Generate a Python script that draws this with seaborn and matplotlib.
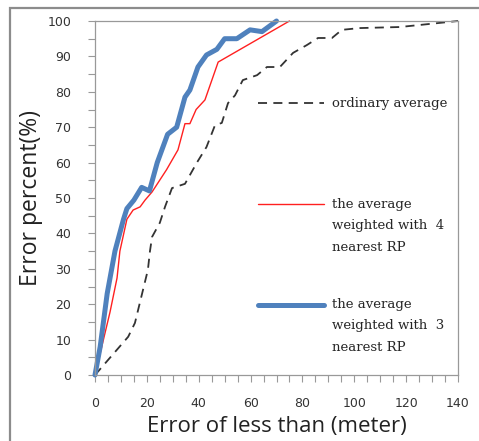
import numpy as np
import pandas as pd
import matplotlib
matplotlib.use("Agg")
import matplotlib.pyplot as plt
from matplotlib.patches import Rectangle
from matplotlib.lines import Line2D
from matplotlib.ticker import MultipleLocator
import seaborn as sns

# data
ord_x = [0, 12.8, 15.4, 18.5, 20.4, 21.2, 22, 25, 27, 29.7, 34.7, 39.3, 43, 46.3, 48.9,
         51.3, 54, 57, 62.5, 66.3, 71.3, 76.4, 81.7, 86, 91.4, 95.2, 102, 117.6, 140]
ord_y = [0, 10.8, 14.7, 24, 29.7, 35, 39, 43, 47.5, 52.8, 54, 60, 64.4, 70.6, 71.2,
         76.8, 79, 83.3, 84.7, 87, 87, 91, 93.2, 95.2, 95.2, 97.5, 98, 98.3, 100]

w4_x = [0, 5.8, 8.5, 9.6, 12.3, 14.7, 17.4, 19.3, 22, 27.6, 32, 34.7, 36.6, 39, 42.4, 47.5, 75]
w4_y = [0, 17.8, 27.4, 35, 44, 46.6, 47.5, 49.4, 51.7, 58, 63.6, 71, 71, 75, 77.7, 88.4, 100]

w3_x = [0, 2, 4.7, 7.7, 11, 12.3, 15, 18, 21, 24, 28, 31.5, 34.7, 36.6, 39.7, 43, 47, 50,
        54.7, 59.8, 64.4, 70]
w3_y = [0, 8, 23, 35, 44, 47, 49.4, 53, 52, 60, 68, 70, 78.5, 80.5, 87, 90.4, 92, 95,
        95, 97.5, 97, 100]

labels = ["ordinary average",
          "the average\nweighted with  4\nnearest RP",
          "the average\nweighted with  3\nnearest RP"]

sns.set_style("white")
plt.rcParams['font.family'] = ['DejaVu Sans']

fig = plt.figure(figsize=(4.79, 4.41), dpi=100)
ax = fig.add_axes([95 / 479, 1 - 375 / 441, 363 / 479, 354 / 441])

df_o = pd.DataFrame({"x": ord_x, "y": ord_y})
df_4 = pd.DataFrame({"x": w4_x, "y": w4_y})
df_3 = pd.DataFrame({"x": w3_x, "y": w3_y})

sns.lineplot(data=df_o, x="x", y="y", ax=ax, color="#333333", lw=1.3,
             sort=False, estimator=None)
ax.lines[-1].set_dashes([5, 3.5])
sns.lineplot(data=df_4, x="x", y="y", ax=ax, color="#ff2020", lw=1.0,
             sort=False, estimator=None)
sns.lineplot(data=df_3, x="x", y="y", ax=ax, color="#4f81bd", lw=3.6,
             sort=False, estimator=None)
for ln in ax.lines:
    ln.set_clip_on(False)
    ln.set_solid_capstyle("round")

ax.set_xlim(0, 140)
ax.set_ylim(0, 100)
ax.xaxis.set_major_locator(MultipleLocator(20))
ax.xaxis.set_minor_locator(MultipleLocator(5))
ax.yaxis.set_major_locator(MultipleLocator(10))
ax.yaxis.set_minor_locator(MultipleLocator(5))
ax.tick_params(which="both", direction="out", length=5, width=0.8, color="#999999",
               labelsize=9, labelcolor="#333333", bottom=True, left=True)
ax.tick_params(axis="y", pad=12)
ax.tick_params(axis="x", pad=11)
for s in ax.spines.values():
    s.set_color("#999999")
    s.set_linewidth(0.9)

ax.set_xlabel("Error of less than (meter)", fontsize=16, family="Open Sans", color="#222222")
ax.set_ylabel("Error percent(%)", fontsize=16.5, family="Open Sans", color="#222222")
ax.xaxis.set_label_coords(0.501, -0.117)
ax.yaxis.set_label_coords(-0.143, 0.5)

# legend: one per entry, handle level with first text line
handles = [Line2D([], [], color="#333333", lw=1.3, dashes=[5, 3.5]),
           Line2D([], [], color="#ff2020", lw=1.0),
           Line2D([], [], color="#4f81bd", lw=3.6)]
ys = [0.766, 0.483, 0.2]
for h, lab, yy in zip(handles, labels, ys):
    n = lab.count("\n")
    txt = "\n" * n + lab
    leg = ax.legend([h], [txt], loc="center left", bbox_to_anchor=(0.449, yy),
                    frameon=False, borderpad=0, borderaxespad=0, handlelength=5.0,
                    handletextpad=0.6, prop={"family": "DejaVu Serif", "size": 9.5})
    for t in leg.get_texts():
        t.set_linespacing(1.85)
    ax.add_artist(leg)
ax.legend_ = None

# outer frame of the picture
fig.patches.append(Rectangle((10 / 479, -0.1), 1.2, 1 - 8 / 441 + 0.1,
                             transform=fig.transFigure, fill=False,
                             edgecolor="#8c8c8c", lw=1.6))

plt.savefig("out.png", dpi=100)
